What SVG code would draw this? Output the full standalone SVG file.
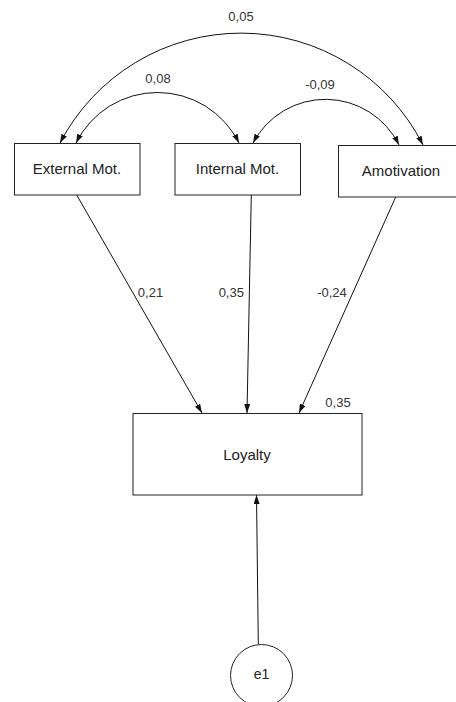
<svg xmlns="http://www.w3.org/2000/svg" width="456" height="702" viewBox="0 0 456 702">
<style>
.box{fill:#fff;stroke:#222;stroke-width:1}
.lbl{font-family:"Liberation Sans",Arial,sans-serif;font-size:15px;fill:#222;text-anchor:middle}
.num{font-family:"Liberation Sans",Arial,sans-serif;font-size:13px;fill:#333;text-anchor:middle}
.edge{fill:none;stroke:#111;stroke-width:1}
</style>
<defs>
<marker id="ah" viewBox="0 0 9 6" refX="9" refY="3" markerWidth="9" markerHeight="6" markerUnits="userSpaceOnUse" orient="auto-start-reverse">
<path d="M0,0 L9,3 L0,6 z" fill="#111"/>
</marker>
</defs>
<rect width="456" height="702" fill="#fff"/>
<g id="connectors">
<path class="edge" d="M60,143 A204,204 0 0,1 423,145" marker-start="url(#ah)" marker-end="url(#ah)"/>
<path class="edge" d="M76,143 A91,91 0 0,1 239,143" marker-start="url(#ah)" marker-end="url(#ah)"/>
<path class="edge" d="M253,143 A82,82 0 0,1 399,145" marker-start="url(#ah)" marker-end="url(#ah)"/>
<line class="edge" x1="76.7" y1="195" x2="202" y2="413" marker-end="url(#ah)"/>
<line class="edge" x1="251.3" y1="195" x2="247" y2="413" marker-end="url(#ah)"/>
<line class="edge" x1="395.7" y1="197" x2="299" y2="413" marker-end="url(#ah)"/>
<line class="edge" x1="258.3" y1="644" x2="256.5" y2="495" marker-end="url(#ah)"/>
<text class="num" x="241" y="20.7">0,05</text>
<text class="num" x="158" y="83.3">0,08</text>
<text class="num" x="320" y="89.3">-0,09</text>
<text class="num" x="150.5" y="296.7">0,21</text>
<text class="num" x="231.3" y="296.7">0,35</text>
<text class="num" x="332" y="296.7">-0,24</text>
</g>
<g id="external">
<rect class="box" x="14.5" y="143.5" width="125.5" height="51.5"/>
<text class="lbl" x="77" y="173.5">External Mot.</text>
</g>
<g id="internal">
<rect class="box" x="175" y="143.5" width="125.5" height="51.5"/>
<text class="lbl" x="237.5" y="173.5">Internal Mot.</text>
</g>
<g id="amotivation">
<rect class="box" x="338.5" y="145.5" width="126" height="51.5"/>
<text class="lbl" x="401" y="175.5">Amotivation</text>
</g>
<g id="loyalty">
<rect class="box" x="133" y="413.5" width="229" height="81.5"/>
<text class="lbl" x="247" y="460">Loyalty</text>
<text class="num" x="338" y="406.7">0,35</text>
</g>
<g id="e1">
<circle class="box" cx="261.5" cy="675.5" r="31"/>
<text class="lbl" x="261.5" y="678.5" style="font-size:14px">e1</text>
</g>
</svg>
